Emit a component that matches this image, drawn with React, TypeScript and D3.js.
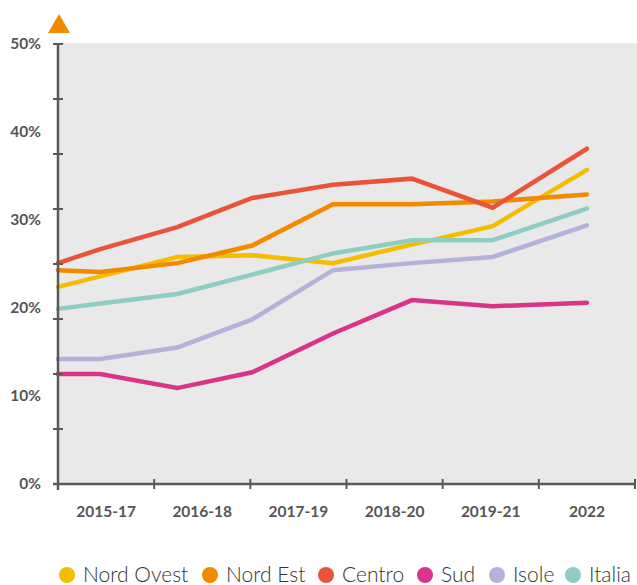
import * as d3 from "d3";

const categories = ["2015-17", "2016-18", "2017-19", "2018-20", "2019-21", "2022"];
// where each vertex sits along the axis, in category units
const xPos = [0, 0.44, 1.24, 2.02, 2.86, 3.68, 4.52, 5.5];
const yTickLabels = [0, 10, 20, 30, 40, 50];
const yMinorTicks = [0, 6.25, 12.5, 18.75, 25, 31.25, 37.5, 43.75, 50];

const seriesNames = ["Nord Ovest", "Nord Est", "Centro", "Sud", "Isole", "Italia"];
const seriesColors = ["#f5bd00", "#f28a00", "#e9533a", "#d9348a", "#b4b1db", "#8ecdc1"];

const nordOvest = [22.4, 23.6, 25.8, 26.0, 25.1, 27.2, 29.3, 35.7];
const nordEst = [24.3, 24.1, 25.1, 27.1, 31.8, 31.8, 32.1, 32.9];
const centro = [25.1, 26.7, 29.2, 32.5, 34.0, 34.7, 31.4, 38.1];
const sud = [12.5, 12.5, 10.9, 12.7, 17.1, 20.9, 20.2, 20.6];
const isole = [14.2, 14.2, 15.5, 18.7, 24.3, 25.1, 25.8, 29.4];
const italia = [19.9, 20.5, 21.6, 23.8, 26.2, 27.7, 27.7, 31.3];

const seriesValues = [nordOvest, nordEst, centro, sud, isole, italia];

const width = 637;
const height = 585;
const left = 58;
const right = 635;
const top = 44;
const bottom = 484;
const axisColor = "#595959";
const font = "Lato, 'Open Sans', sans-serif";

// legend circle centers
const legendX = [67, 210, 326, 425, 497, 573];

export default function App() {
  const x = d3.scaleLinear().domain([0, categories.length]).range([left, right]);
  const y = d3.scaleLinear().domain([0, 50]).range([bottom, top]);

  const line = d3
    .line<number>()
    .x((_, i) => x(xPos[i]))
    .y((d) => y(d));

  return (
    <svg
      width={width}
      height={height}
      style={{ position: "absolute", left: 0, top: 0 }}
      fontFamily={font}
    >
      <rect x={left} y={top - 1} width={width - left} height={bottom - top + 1} fill="#e9e9e9" />

      {/* orange marker above the axis */}
      <path d={`M${left + 1},14 L${left + 12},33 L${left - 10},33 Z`} fill="#f28a00" />

      {seriesValues.map((vals, k) => (
        <path
          key={seriesNames[k]}
          d={line(vals) || ""}
          fill="none"
          stroke={seriesColors[k]}
          strokeWidth={4.5}
          strokeLinecap="round"
          strokeLinejoin="miter"
        />
      ))}

      {/* y axis */}
      <line x1={left} x2={left} y1={top - 1} y2={bottom + 6} stroke={axisColor} strokeWidth={2.5} />
      {yMinorTicks.map((t) => (
        <line key={t} x1={left - 5} x2={left + 5} y1={y(t)} y2={y(t)} stroke={axisColor} strokeWidth={2} />
      ))}
      {yTickLabels.map((t) => (
        <text
          key={t}
          x={41}
          y={y(t)}
          dy="0.35em"
          textAnchor="end"
          fontSize={15.5}
          fontWeight="bold"
          fill="#555"
        >
          {t}%
        </text>
      ))}

      {/* x axis */}
      <line x1={left - 5} x2={right} y1={bottom} y2={bottom} stroke={axisColor} strokeWidth={2.5} />
      {d3.range(categories.length + 1).map((i) => (
        <line key={i} x1={x(i)} x2={x(i)} y1={bottom - 5} y2={bottom + 5} stroke={axisColor} strokeWidth={2} />
      ))}
      {categories.map((c, i) => (
        <text
          key={c}
          x={x(i + 0.5)}
          y={512}
          dy="0.35em"
          textAnchor="middle"
          fontSize={15.5}
          fontWeight="bold"
          fill="#555"
        >
          {c}
        </text>
      ))}

      {/* legend */}
      {seriesNames.map((n, k) => (
        <g key={n} transform={`translate(${legendX[k]},575)`}>
          <circle r={8} fill={seriesColors[k]} />
          <text x={16} dy="0.35em" fontSize={21} fontWeight={300} fill="#333">
            {n}
          </text>
        </g>
      ))}
    </svg>
  );
}
